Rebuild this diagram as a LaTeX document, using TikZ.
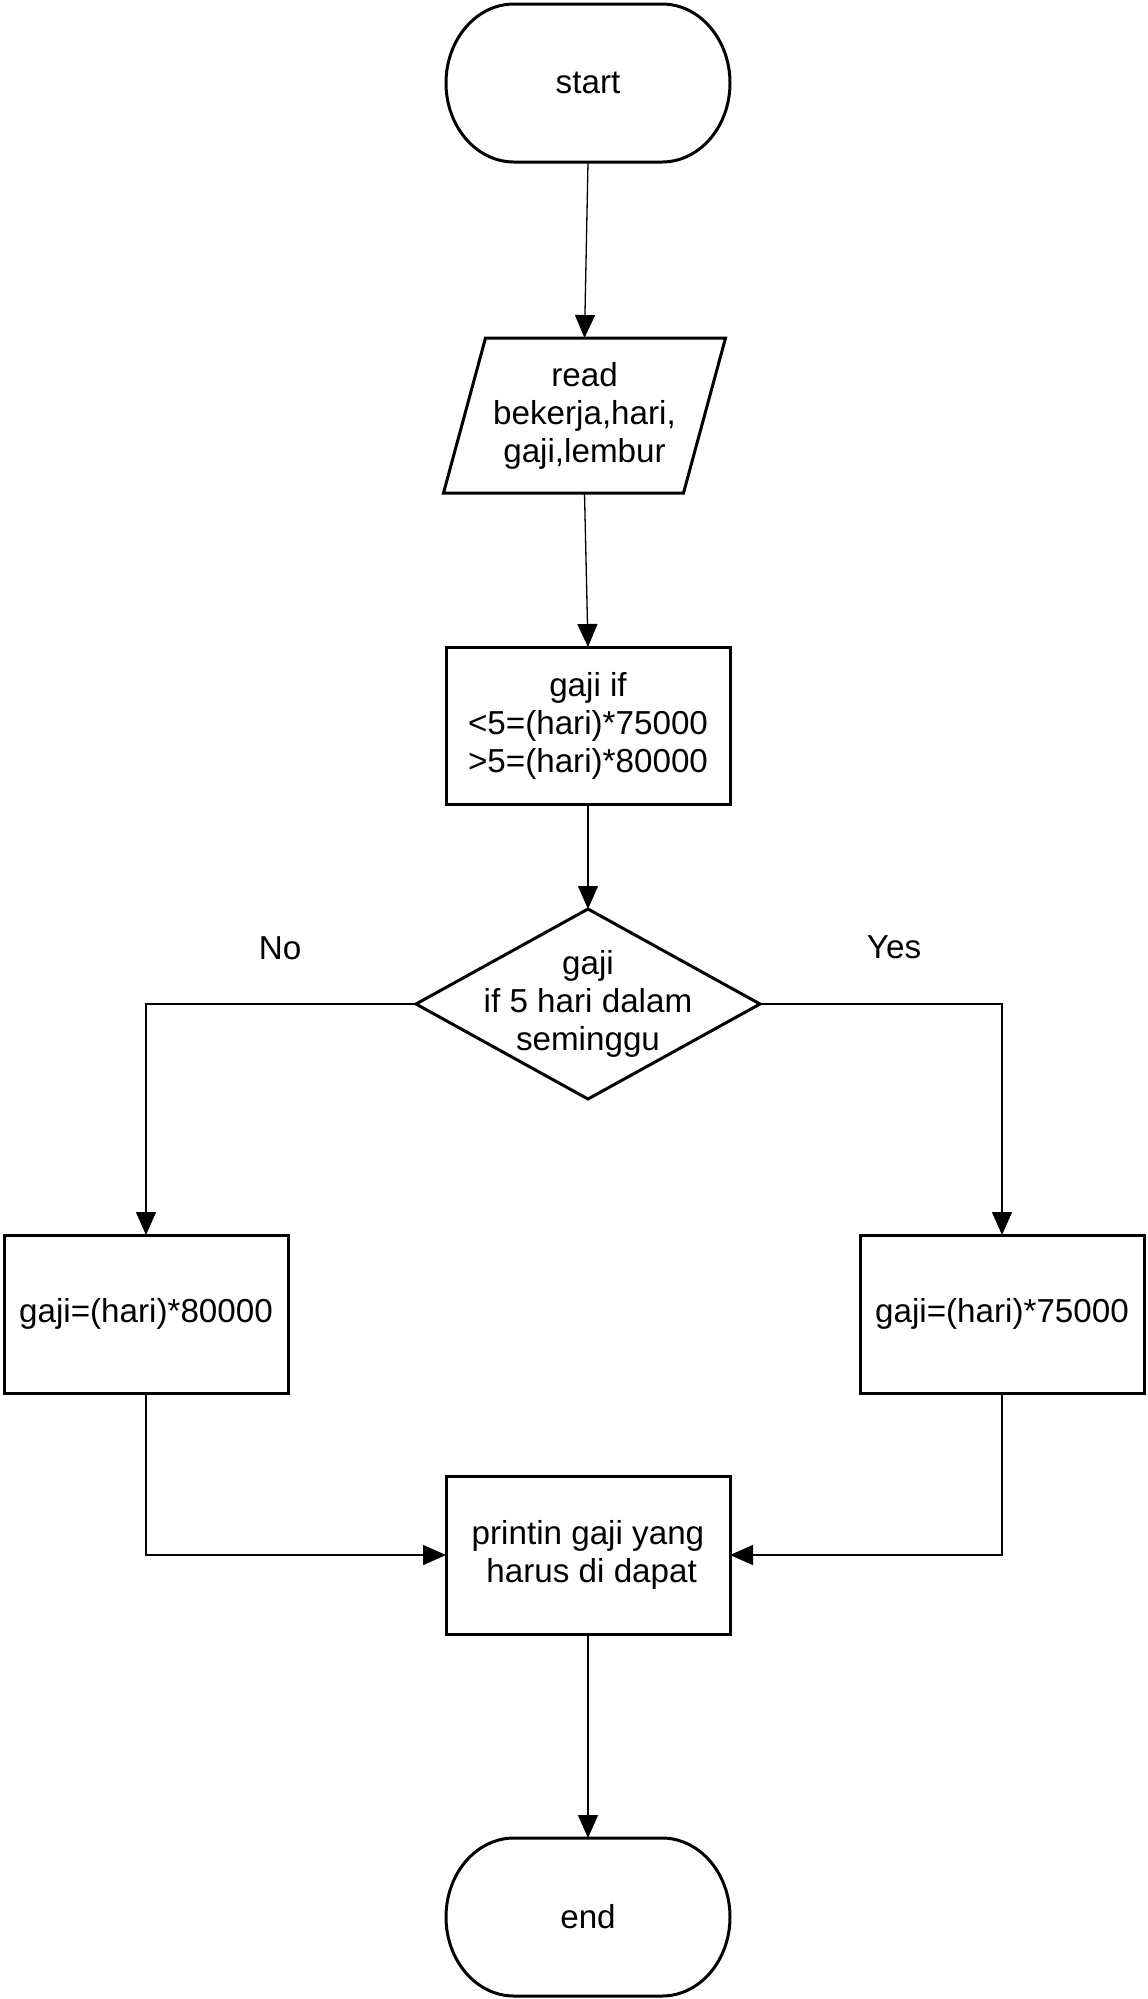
\documentclass[tikz,border=0pt]{standalone}
\usepackage{fontspec}
\setmainfont{Liberation Sans}
\usetikzlibrary{arrows.meta}
\begin{document}
\begin{tikzpicture}[x=0.5pt,y=-0.5pt,
  every node/.style={font=\fontsize{16.6}{19}\selectfont, align=center, inner sep=0pt, outer sep=0pt},
  boxnode/.style={draw, line width=1.5pt, minimum width=142pt, minimum height=79pt},
  termnode/.style={minimum width=142pt, minimum height=79pt},
  conn/.style={line width=0.65pt, -{Triangle[width=10pt,length=11.5pt]}},
  shapeline/.style={draw, line width=1.5pt, line join=miter}]
\useasboundingbox (0,0) rectangle (1147,1999);

\node[termnode] (start) at (588,83) {start};
\draw[shapeline] ([xshift=34pt]start.north west) -- ([xshift=-34pt]start.north east)
  arc[start angle=90, end angle=-90, x radius=34pt, y radius=39.5pt]
  -- ([xshift=34pt]start.south west)
  arc[start angle=270, end angle=90, x radius=34pt, y radius=39.5pt] -- cycle;
\node[minimum width=141pt, minimum height=77.5pt] (read) at (584.5,415.5) {read\\bekerja,hari,\\gaji,lembur};
\draw[shapeline] ([xshift=21pt]read.north west) -- (read.north east) -- ([xshift=-21pt]read.south east) -- (read.south west) -- cycle;
\node[boxnode, minimum height=78.5pt] (calc) at (588,725.5) {gaji if\\<5=(hari)*75000\\>5=(hari)*80000};
\node[minimum width=172pt, minimum height=95pt] (dec) at (588,1004) {gaji\\if 5 hari dalam\\seminggu};
\draw[shapeline] (dec.north) -- (dec.east) -- (dec.south) -- (dec.west) -- cycle;
\node (no) at (280,948) {No};
\node (yes) at (894,947) {Yes};
\node[boxnode] (left) at (146,1314) {gaji=(hari)*80000};
\node[boxnode] (right) at (1002,1314) {gaji=(hari)*75000};
\node[boxnode] (print) at (588,1555) {printin gaji yang\\\hphantom{i}harus di dapat};
\node[termnode] (end) at (588,1917) {end};
\draw[shapeline] ([xshift=34pt]end.north west) -- ([xshift=-34pt]end.north east)
  arc[start angle=90, end angle=-90, x radius=34pt, y radius=39.5pt]
  -- ([xshift=34pt]end.south west)
  arc[start angle=270, end angle=90, x radius=34pt, y radius=39.5pt] -- cycle;

\draw[conn] (start.south) -- (read.north);
\draw[conn] (read.south) -- (calc.north);
\draw[conn] (calc.south) -- (dec.north);
\draw[conn] (dec.west) -| (left.north);
\draw[conn] (dec.east) -| (right.north);
\draw[conn] (left.south) |- (print.west);
\draw[conn] (right.south) |- (print.east);
\draw[conn] (print.south) -- (end.north);
\end{tikzpicture}
\end{document}
